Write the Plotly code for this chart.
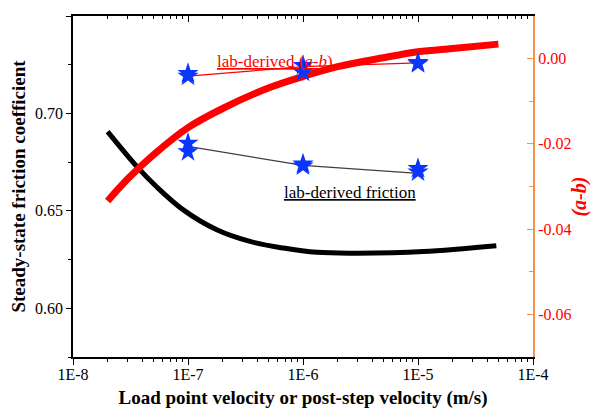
import plotly.graph_objects as go

# ---- data ----
friction_v = [2.0e-8, 3.7e-8, 5.3e-8, 9.1e-8, 1.78e-7, 3.46e-7, 6.75e-7, 1.32e-6, 2.93e-6, 1.11e-5, 4.8e-5]
friction_curve = [0.6907, 0.6719, 0.6625, 0.6505, 0.6403, 0.6343, 0.6309, 0.6287, 0.6283, 0.6291, 0.6321]

ab_v = [2e-8, 3e-8, 5e-8, 1e-7, 2e-7, 5e-7, 1e-6, 2e-6, 5e-6, 1e-5, 2e-5, 5e-5]
ab_curve = [-0.0334, -0.0282, -0.0226, -0.0162, -0.0117, -0.0069, -0.0042, -0.0019, 0.0002, 0.0016, 0.0024, 0.0034]

lab_v = [1e-7, 1e-7, 1e-6, 1e-6, 1e-5, 1e-5]
lab_friction = [0.6847, 0.6804, 0.6741, 0.6731, 0.6718, 0.6700]
lab_ab = [-0.0035, -0.0041, -0.0016, -0.0032, -0.0009, -0.0012]

line_v = [1e-7, 1e-6, 1e-5]
line_friction = [0.6831, 0.6733, 0.6692]
line_ab = [-0.0041, -0.0019, -0.0010]

x_ticks = [1e-8, 1e-7, 1e-6, 1e-5, 1e-4]
x_ticktext = ["1E-8", "1E-7", "1E-6", "1E-5", "1E-4"]
y_ticks = [0.60, 0.65, 0.70, 0.75]
y2_ticks = [-0.06, -0.04, -0.02, 0.00]
y2_ticktext = ["-0.06", "-0.04", "-0.02", "0.00"]

FONT = "Liberation Serif, Times New Roman, DejaVu Serif, serif"
STAR = "#0a36ff"
ORANGE = "#f7924a"

fig = go.Figure()

fig.add_trace(go.Scatter(x=friction_v, y=friction_curve, mode="lines",
                         line=dict(color="black", width=5, shape="spline"), yaxis="y"))
fig.add_trace(go.Scatter(x=ab_v, y=ab_curve, mode="lines",
                         line=dict(color="#ff0000", width=7, shape="spline"), yaxis="y2"))
fig.add_trace(go.Scatter(x=line_v, y=line_friction, mode="lines",
                         line=dict(color="#4a3a3a", width=1.2), yaxis="y"))
fig.add_trace(go.Scatter(x=line_v, y=line_ab, mode="lines",
                         line=dict(color="#ff0000", width=1.2), yaxis="y2"))
fig.add_trace(go.Scatter(x=lab_v, y=lab_friction, mode="markers",
                         marker=dict(symbol="star", size=16, color=STAR, line=dict(width=0)), yaxis="y"))
fig.add_trace(go.Scatter(x=lab_v, y=lab_ab, mode="markers",
                         marker=dict(symbol="star", size=16, color=STAR, line=dict(width=0)), yaxis="y2"))
# top mirror axis carrier
fig.add_trace(go.Scatter(x=[None], y=[None], xaxis="x2", yaxis="y", showlegend=False))

fig.update_layout(
    width=594, height=402,
    margin=dict(l=65, r=69, t=8, b=53, autoexpand=False),
    paper_bgcolor="white", plot_bgcolor="white",
    showlegend=False,
    font=dict(family=FONT, size=16, color="black"),
    xaxis=dict(type="log", range=[-8, -4], tickvals=x_ticks, ticktext=x_ticktext, automargin=False,
               ticks="outside", ticklen=6, tickwidth=1.2, tickcolor="black", ticklabelstandoff=-4,
               minor=dict(ticks="outside", ticklen=3, tickwidth=1, tickcolor="black", dtick="D1"),
               showline=True, linecolor="black", linewidth=1.5, showgrid=False, zeroline=False,
               tickfont=dict(family=FONT, size=16, color="black"),
               title=dict(text="<b>Load point velocity or post-step velocity (m/s)</b>",
                          font=dict(family=FONT, size=19, color="black"), standoff=9)),
    xaxis2=dict(type="log", range=[-8, -4], overlaying="x", side="top", anchor="y", automargin=False,
                tickvals=x_ticks, showticklabels=False,
                ticks="inside", ticklen=6, tickwidth=1.2, tickcolor="black",
                minor=dict(ticks="inside", ticklen=3, tickwidth=1, tickcolor="black", dtick="D1"),
                showline=True, linecolor="black", linewidth=1.5, showgrid=False, zeroline=False),
    yaxis=dict(range=[0.575, 0.75], tickvals=y_ticks, tickformat=".2f", automargin=False,
               ticks="outside", ticklen=5, tickwidth=1.2, tickcolor="black",
               minor=dict(ticks="outside", ticklen=3, tickwidth=1, tickcolor="black", dtick=0.025),
               showline=True, linecolor="black", linewidth=1.5, showgrid=False, zeroline=False,
               tickfont=dict(family=FONT, size=16, color="black"),
               title=dict(text="<b>Steady-state friction coefficient</b>",
                          font=dict(family=FONT, size=19, color="black"), standoff=5)),
    yaxis2=dict(range=[-0.07, 0.01], overlaying="y", side="right", automargin=False,
                tickvals=y2_ticks, ticktext=y2_ticktext,
                ticks="inside", ticklen=6, tickwidth=1.2, tickcolor=ORANGE,
                minor=dict(ticks="inside", ticklen=4, tickwidth=1, tickcolor=ORANGE, dtick=0.01),
                showline=True, linecolor=ORANGE, linewidth=2, showgrid=False, zeroline=False,
                tickfont=dict(family=FONT, size=16, color="#ff0000")),
)

fig.add_annotation(text="<i><b>(a-b)</b></i>", xref="paper", yref="paper",
                   x=1.0, xshift=60, y=0.469, textangle=-90, showarrow=False,
                   font=dict(family=FONT, size=20, color="#ff0000"))
fig.add_annotation(text="<u>lab-derived (<i>a-b</i>)</u>", xref="paper", yref="paper",
                   x=0.439, y=0.900, showarrow=False,
                   font=dict(family=FONT, size=17, color="#ff0000"))
fig.add_annotation(text="<u>lab-derived friction</u>", xref="paper", yref="paper",
                   x=0.750, y=0.481, showarrow=False,
                   font=dict(family=FONT, size=17, color="black"))

fig.write_html("out.html")
